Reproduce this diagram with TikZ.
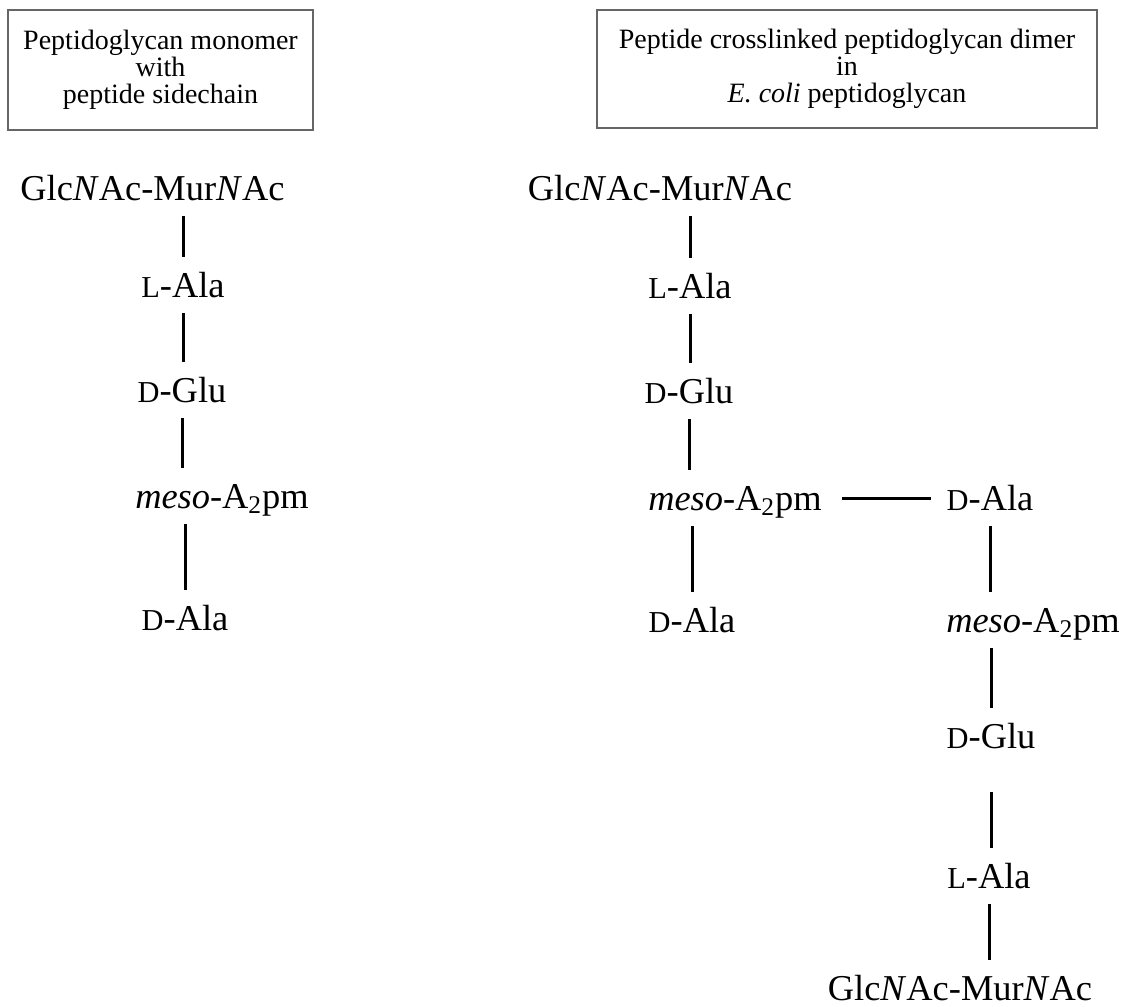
\documentclass[tikz,border=0pt]{standalone}
\usepackage{fontspec}
\setmainfont{Liberation Serif}
\newcommand{\smcap}[1]{{\fontsize{15.2}{15}\selectfont #1}}
\newcommand{\glcmur}{Glc\textit{N}Ac-Mur\textit{N}Ac}
\newcommand{\mesoapm}{\textit{meso}-A\textsubscript{2}pm}
\begin{document}
\begin{tikzpicture}[x=0.5pt, y=-0.5pt,
  res/.style={anchor=base, font=\fontsize{18.2}{20}\selectfont, inner xsep=0pt, inner ysep=8pt, text height=12pt, text depth=0pt},
  titlebox/.style={rectangle, draw=black!60, line width=1pt, align=center, font=\fontsize{14}{13.6}\selectfont, inner sep=0pt},
  bond/.style={line width=1.5pt}]
\useasboundingbox (0,0) rectangle (1122,1006);
\node[titlebox, minimum width=152.5pt, minimum height=60pt] (T1) at (160.5,70) {Peptidoglycan monomer\\with\\peptide sidechain};
\node[titlebox, minimum width=250pt, minimum height=59pt] (T2) at (847,69) {Peptide crosslinked peptidoglycan dimer\\in\\\textit{E. coli} peptidoglycan};
\node[res] (glcA) at (152.5,200) {\glcmur};
\node[res] (lalaA) at (183,297) {\smcap{L}-Ala};
\node[res] (dgluA) at (182,402) {\smcap{D}-Glu};
\node[res] (mesoA) at (222,508) {\mesoapm};
\node[res] (dalaA) at (185,630) {\smcap{D}-Ala};
\node[res] (glcB) at (660,200) {\glcmur};
\node[res] (lalaB) at (690,298) {\smcap{L}-Ala};
\node[res] (dgluB) at (689,403) {\smcap{D}-Glu};
\node[res] (mesoB) at (735,510) {\mesoapm};
\node[res] (dalaB) at (692,632) {\smcap{D}-Ala};
\node[res] (dalaC) at (990,510) {\smcap{D}-Ala};
\node[res] (mesoC) at (1033,632) {\mesoapm};
\node[res] (dgluC) at (991,748) {\smcap{D}-Glu};
\node[res] (lalaC) at (989,888) {\smcap{L}-Ala};
\node[res] (glcC) at (960,1000) {\glcmur};
\draw[bond] (lalaA.north) -- (lalaA.north |- glcA.south);
\draw[bond] (lalaA.south) -- (lalaA.south |- dgluA.north);
\draw[bond] (dgluA.south) -- (dgluA.south |- mesoA.north);
\draw[bond] (dalaA.north) -- (dalaA.north |- mesoA.south);
\draw[bond] (lalaB.north) -- (lalaB.north |- glcB.south);
\draw[bond] (lalaB.south) -- (lalaB.south |- dgluB.north);
\draw[bond] (dgluB.south) -- (dgluB.south |- mesoB.north);
\draw[bond] (dalaB.north) -- (dalaB.north |- mesoB.south);
\draw[bond, shorten <=10pt, shorten >=7.5pt] (mesoB.east) -- (dalaC.west);
\draw[bond] (dalaC.south) -- (dalaC.south |- mesoC.north);
\draw[bond] (dgluC.north) -- (dgluC.north |- mesoC.south);
\draw[bond, shorten <=14pt] (dgluC.south) -- (dgluC.south |- lalaC.north);
\draw[bond] (lalaC.south) -- (lalaC.south |- glcC.north);
\end{tikzpicture}
\end{document}
